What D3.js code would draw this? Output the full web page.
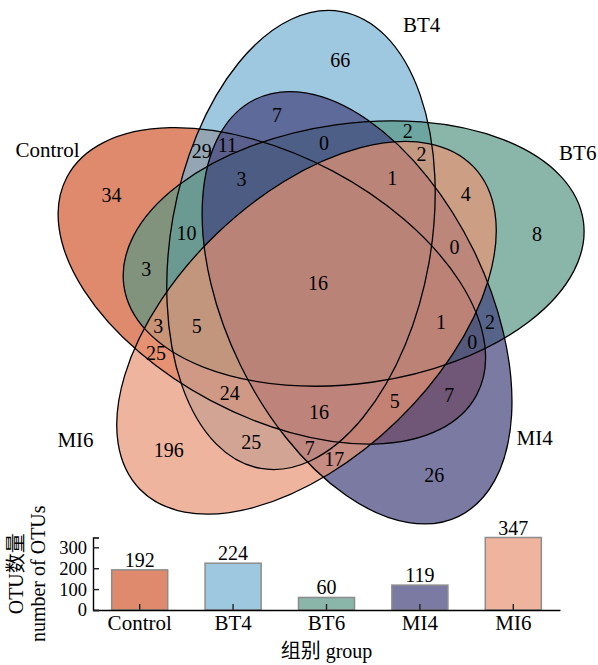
<!DOCTYPE html>
<html>
<head>
<meta charset="utf-8">
<script src="https://d3js.org/d3.v7.min.js"></script>
<style>
  body { margin: 0; background: #fff; }
  svg { display: block; }
  text { font-family: "Liberation Serif", "Times New Roman", "Noto Sans CJK SC", serif; fill: #000; }
</style>
</head>
<body>
<svg id="chart" width="598" height="665"></svg>
<script>
// ---------------- DATA ----------------
const sets = ["Control", "BT4", "BT6", "MI4", "MI6"];

// Venn regions: which sets each region belongs to, and its OTU count
const regionSets = [
  "Control", "BT4", "BT6", "MI4", "MI6",
  "Control&BT4", "Control&BT6", "Control&MI4", "Control&MI6", "BT4&BT6",
  "BT4&MI4", "BT4&MI6", "BT6&MI4", "BT6&MI6", "MI4&MI6",
  "Control&BT4&BT6", "Control&BT4&MI4", "Control&BT4&MI6", "Control&BT6&MI4", "Control&BT6&MI6",
  "Control&MI4&MI6", "BT4&BT6&MI4", "BT4&BT6&MI6", "BT4&MI4&MI6", "BT6&MI4&MI6",
  "Control&BT4&BT6&MI4", "Control&BT4&BT6&MI6", "Control&BT4&MI4&MI6", "Control&BT6&MI4&MI6", "BT4&BT6&MI4&MI6",
  "Control&BT4&BT6&MI4&MI6"
];
const regionCounts = [
  34, 66, 8, 26, 196,
  29, 3, 7, 25, 2,
  7, 25, 2, 4, 17,
  10, 11, 24, 0, 3,
  5, 0, 2, 7, 0,
  3, 5, 16, 1, 1,
  16
];

// Bar chart: total OTUs per group
const groups = ["Control", "BT4", "BT6", "MI4", "MI6"];
const otuTotals = [192, 224, 60, 119, 347];
const yTickValues = [0, 100, 200, 300];

// ---------------- STYLE / LAYOUT ----------------
const setColors = ["#d3592f", "#73b0d1", "#589584", "#42427c", "#e89474"];
const fillOpacity = 0.7;
// five-ellipse layout in unit space (like VennDiagram's quintuple layout)
const geom = { cx: 0.5, cy: 0.5, dist: 0.0925, phase: 111.6, a: 0.464, b: 0.26, tilt: 10 };
// category label placement: angle (deg, CCW from +x) and distance from layout centre (unit space)
const catPos = [153.8, 68.1, 26.6, -35.6, -147.2];
const catDist = [0.603, 0.556, 0.581, 0.533, 0.577];

const svg = d3.select("#chart");

// Venn scales (unit square -> pixels)
const vx = d3.scaleLinear().domain([0, 1]).range([68, 568]);
const vy = d3.scaleLinear().domain([0, 1]).range([533, 33]);
const unit = vx(1) - vx(0);

// ellipses for each set
const ellipses = sets.map((s, i) => {
  const k = i - 1; // BT4 is the reference ellipse
  const ang = (geom.phase - 72 * k) * Math.PI / 180;
  const ux = geom.cx + geom.dist * Math.cos(ang);
  const uy = geom.cy + geom.dist * Math.sin(ang);
  return {
    name: s, i,
    cx: vx(ux), cy: vy(uy),
    A: geom.a * unit, B: geom.b * unit,
    tilt: geom.tilt + 72 * k
  };
});

const gVenn = svg.append("g");
gVenn.selectAll("ellipse.fill").data(ellipses).enter().append("ellipse")
  .attr("class", "fill")
  .attr("cx", d => d.cx).attr("cy", d => d.cy)
  .attr("rx", d => d.B).attr("ry", d => d.A)
  .attr("transform", d => `rotate(${d.tilt},${d.cx},${d.cy})`)
  .attr("fill", d => setColors[d.i]).attr("fill-opacity", fillOpacity)
  .attr("stroke", "none");
gVenn.selectAll("ellipse.line").data(ellipses).enter().append("ellipse")
  .attr("class", "line")
  .attr("cx", d => d.cx).attr("cy", d => d.cy)
  .attr("rx", d => d.B).attr("ry", d => d.A)
  .attr("transform", d => `rotate(${d.tilt},${d.cx},${d.cy})`)
  .attr("fill", "none").attr("stroke", "#000").attr("stroke-width", 1.3);

// ---- compute a label point for each region from the geometry ----
const GW = 598, GH = 545;
const ids = new Uint8Array(GW * GH);
const pre = ellipses.map(e => {
  const t = e.tilt * Math.PI / 180;
  return { cx: e.cx, cy: e.cy, ux: Math.sin(t), uy: -Math.cos(t), wx: Math.cos(t), wy: Math.sin(t), A2: e.A * e.A, B2: e.B * e.B };
});
for (let y = 0; y < GH; y++) {
  for (let x = 0; x < GW; x++) {
    let m = 0;
    for (let i = 0; i < 5; i++) {
      const p = pre[i];
      const dx = x + 0.5 - p.cx, dy = y + 0.5 - p.cy;
      const a = dx * p.ux + dy * p.uy, b = dx * p.wx + dy * p.wy;
      if (a * a / p.A2 + b * b / p.B2 <= 1) m |= (1 << i);
    }
    ids[y * GW + x] = m;
  }
}
const INF = 1e9;
const dist = new Float32Array(GW * GH);
for (let y = 0; y < GH; y++) for (let x = 0; x < GW; x++) {
  const k = y * GW + x, v = ids[k];
  let border = (x === 0 || y === 0 || x === GW - 1 || y === GH - 1);
  if (!border) border = ids[k - 1] !== v || ids[k + 1] !== v || ids[k - GW] !== v || ids[k + GW] !== v;
  dist[k] = border ? 0.5 : INF;
}
const S2 = Math.SQRT2;
for (let y = 1; y < GH - 1; y++) for (let x = 1; x < GW - 1; x++) {
  const k = y * GW + x;
  dist[k] = Math.min(dist[k], dist[k - 1] + 1, dist[k - GW] + 1, dist[k - GW - 1] + S2, dist[k - GW + 1] + S2);
}
for (let y = GH - 2; y > 0; y--) for (let x = GW - 2; x > 0; x--) {
  const k = y * GW + x;
  dist[k] = Math.min(dist[k], dist[k + 1] + 1, dist[k + GW] + 1, dist[k + GW + 1] + S2, dist[k + GW - 1] + S2);
}
const best = {};
for (let k = 0; k < ids.length; k++) {
  const v = ids[k];
  if (!v) continue;
  if (!best[v] || dist[k] > best[v].d) best[v] = { d: dist[k], x: (k % GW) + 0.5, y: Math.floor(k / GW) + 0.5 };
}
// centre of the "thick core" of each region (points with >= 80% of max clearance)
const acc = {};
for (let k = 0; k < ids.length; k++) {
  const v = ids[k];
  if (!v || dist[k] < 0.8 * best[v].d) continue;
  if (!acc[v]) acc[v] = { sx: 0, sy: 0, n: 0 };
  acc[v].sx += (k % GW) + 0.5; acc[v].sy += Math.floor(k / GW) + 0.5; acc[v].n++;
}
function labelPoint(mask) {
  const b = best[mask];
  if (!b) return { x: -100, y: -100 };
  const a = acc[mask];
  const cx = a.sx / a.n, cy = a.sy / a.n;
  const k = Math.floor(cy) * GW + Math.floor(cx);
  if (ids[k] === mask && dist[k] >= 0.6 * b.d) return { x: cx, y: cy };
  return { x: b.x, y: b.y };
}

const regionData = regionSets.map((r, j) => {
  const mask = r.split("&").reduce((m, s) => m | (1 << sets.indexOf(s)), 0);
  const p = labelPoint(mask);
  return { key: r, count: regionCounts[j], x: p.x, y: p.y };
});

gVenn.selectAll("text.count").data(regionData).enter().append("text")
  .attr("class", "count")
  .attr("x", d => d.x).attr("y", d => d.y).attr("dy", "0.35em")
  .attr("text-anchor", "middle").attr("font-size", 20)
  .text(d => d.count);

// category labels
gVenn.selectAll("text.cat").data(sets).enter().append("text")
  .attr("class", "cat")
  .attr("x", (d, i) => vx(geom.cx + catDist[i] * Math.cos(catPos[i] * Math.PI / 180)))
  .attr("y", (d, i) => vy(geom.cy + catDist[i] * Math.sin(catPos[i] * Math.PI / 180)))
  .attr("dy", "0.35em").attr("text-anchor", "middle").attr("font-size", 21)
  .text(d => d);

// ---------------- BAR CHART ----------------
const bx = d3.scaleBand().domain(groups).range([93, 560]).paddingInner(0.4).paddingOuter(0.2);
const by = d3.scaleLinear().domain([0, d3.max(otuTotals)]).range([610, 537.5]);

const gBar = svg.append("g");
gBar.selectAll("rect").data(groups).enter().append("rect")
  .attr("x", d => bx(d)).attr("width", bx.bandwidth())
  .attr("y", (d, i) => by(otuTotals[i])).attr("height", (d, i) => by(0) - by(otuTotals[i]))
  .attr("fill", (d, i) => setColors[i]).attr("fill-opacity", fillOpacity)
  .attr("stroke", "#8c8c8c").attr("stroke-width", 1.5);

gBar.selectAll("text.val").data(groups).enter().append("text")
  .attr("class", "val")
  .attr("x", d => bx(d) + bx.bandwidth() / 2)
  .attr("y", (d, i) => by(otuTotals[i]) - 3)
  .attr("text-anchor", "middle").attr("font-size", 20)
  .text((d, i) => otuTotals[i]);

const xAxis = gBar.append("g").attr("transform", `translate(0,${by(0)})`)
  .call(d3.axisBottom(bx).tickSizeInner(-6).tickSizeOuter(0).tickPadding(5));
const yAxis = gBar.append("g").attr("transform", `translate(${bx.range()[0]},0)`)
  .call(d3.axisLeft(by).tickValues(yTickValues).tickSizeInner(-6).tickSizeOuter(-6).tickPadding(6));
[xAxis, yAxis].forEach(g => {
  g.select(".domain").attr("stroke", "#000").attr("stroke-width", 1.4);
  g.selectAll(".tick line").attr("stroke", "#222").attr("stroke-width", 1.4);
  g.selectAll("text").attr("font-family", null).style("fill", "#000");
});
xAxis.selectAll("text").attr("font-size", 21);
yAxis.selectAll("text").attr("font-size", 18.5);

// axis titles
gBar.append("text")
  .attr("x", (bx.range()[0] + bx.range()[1]) / 2).attr("y", 658)
  .attr("text-anchor", "middle").attr("font-size", 20)
  .text("组别 group");
const yMid = (by.range()[0] + by.range()[1]) / 2;
gBar.append("text")
  .attr("transform", `translate(23,${yMid}) rotate(-90)`)
  .attr("text-anchor", "middle").attr("font-size", 20)
  .text("OTU数量");
gBar.append("text")
  .attr("transform", `translate(45,${yMid}) rotate(-90)`)
  .attr("text-anchor", "middle").attr("font-size", 20)
  .text("number of OTUs");
</script>
</body>
</html>
